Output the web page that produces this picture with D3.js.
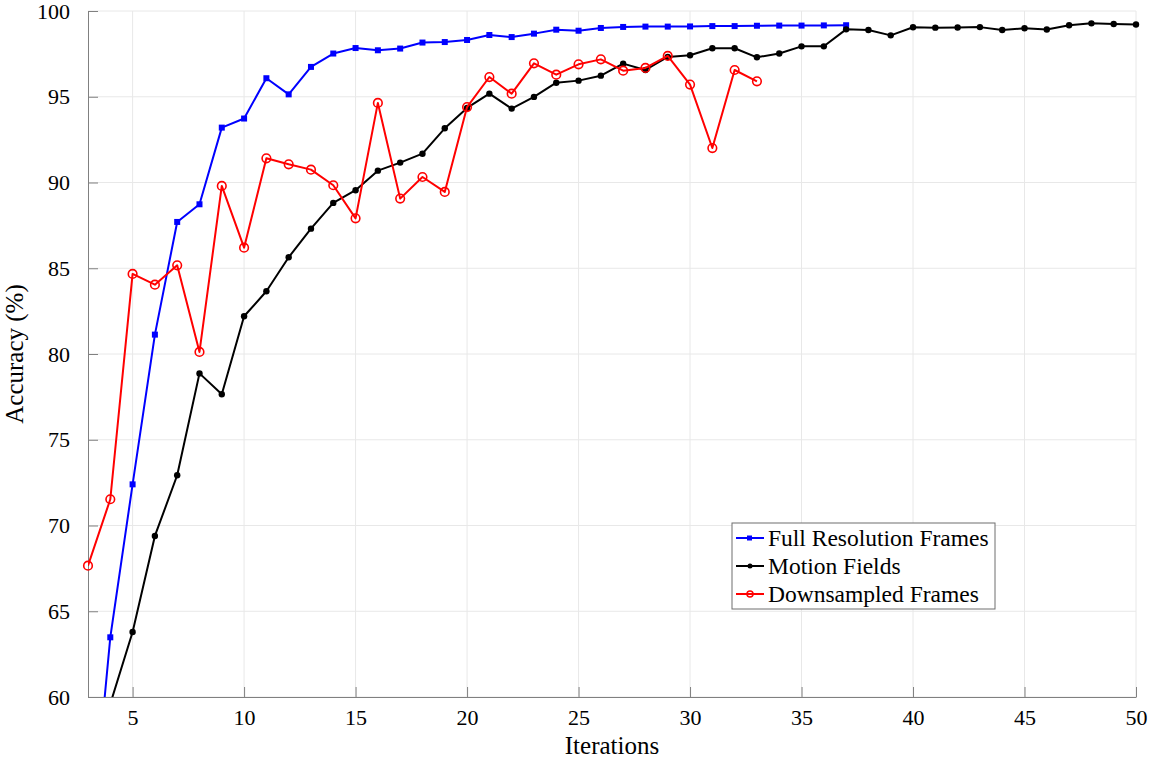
<!DOCTYPE html>
<head>
    <style>
    body { margin: 0; background: #fff; }
    text { font-family: "Liberation Serif", "Times New Roman", serif; fill: #000; }
    .grid line { stroke: #e8e8e8; stroke-width: 1; }
    .axis path, .axis line { stroke: #808080; stroke-width: 1; }
    .axis text { font-size: 22px; }
    .series { fill: none; stroke-width: 2; stroke-linejoin: round; }
    </style>
    <script src="https://d3js.org/d3.v7.min.js"></script>
</head>
<body>
    <svg width="1150" height="759"></svg>
    <script>

    // iterations
    var fullX = d3.range(3, 38);
    var motionX = d3.range(4, 51);
    var downX = d3.range(3, 34);

    // accuracy values (%)
    var fullY = [49.6, 63.48, 72.4, 81.13, 87.7, 88.73, 93.2, 93.73, 96.08, 95.14,
                 96.74, 97.52, 97.84, 97.71, 97.81, 98.16, 98.19, 98.31, 98.6, 98.48,
                 98.68, 98.91, 98.85, 99.01, 99.07, 99.09, 99.09, 99.1, 99.12, 99.12,
                 99.14, 99.15, 99.15, 99.16, 99.17];
    var motionY = [59.6, 63.79, 69.39, 72.93, 78.87, 77.65, 82.2, 83.66, 85.64, 87.31,
                   88.81, 89.55, 90.69, 91.16, 91.68, 93.16, 94.35, 95.18, 94.31, 94.99,
                   95.82, 95.94, 96.23, 96.93, 96.56, 97.32, 97.42, 97.83, 97.83, 97.3,
                   97.52, 97.94, 97.94, 98.93, 98.89, 98.58, 99.05, 99.03, 99.04, 99.06,
                   98.89, 98.99, 98.92, 99.17, 99.28, 99.24, 99.21];
    var downY = [67.66, 71.53, 84.67, 84.04, 85.17, 80.12, 89.8, 86.2, 91.41, 91.06,
                 90.75, 89.84, 87.91, 94.64, 89.06, 90.32, 89.45, 94.4, 96.15, 95.18,
                 96.95, 96.29, 96.89, 97.18, 96.52, 96.68, 97.38, 95.71, 92.01, 96.56,
                 95.9];

    var xTicks = [5, 10, 15, 20, 25, 30, 35, 40, 45, 50];
    var yTicks = [60, 65, 70, 75, 80, 85, 90, 95, 100];

    var seriesNames = ["Full Resolution Frames", "Motion Fields", "Downsampled Frames"];
    var seriesColors = ["#0000ff", "#000000", "#ff0000"];

    var svg = d3.select("svg"),
        margin = {top: 11, right: 14, bottom: 62, left: 88},
        width = +svg.attr("width") - margin.left - margin.right,
        height = +svg.attr("height") - margin.top - margin.bottom;

    var x = d3.scaleLinear().domain([3, 50]).range([0, width]);
    var y = d3.scaleLinear().domain([60, 100]).range([height, 0]);

    var g = svg.append("g")
        .attr("transform", "translate(" + margin.left + "," + margin.top + ")");

    g.append("clipPath").attr("id", "clip")
      .append("rect").attr("width", width).attr("height", height);

    // grid
    var grid = g.append("g").attr("class", "grid");
    grid.selectAll(".gx").data(xTicks).enter().append("line")
        .attr("x1", x).attr("x2", x).attr("y1", 0).attr("y2", height);
    grid.selectAll(".gy").data(yTicks).enter().append("line")
        .attr("y1", y).attr("y2", y).attr("x1", 0).attr("x2", width);

    // axes
    g.append("g")
        .attr("class", "axis")
        .attr("transform", "translate(0," + height + ")")
        .call(d3.axisBottom(x).tickValues(xTicks).tickSizeInner(-10).tickSizeOuter(0).tickPadding(12))
        .call(function(s) { s.selectAll("text").attr("dy", "0.71em"); });

    g.append("g")
        .attr("class", "axis")
        .call(d3.axisLeft(y).tickValues(yTicks).tickSizeInner(-10).tickSizeOuter(0).tickPadding(18));

    svg.selectAll(".axis .domain").attr("stroke", "#808080");

    svg.append("text")
        .attr("x", margin.left + width / 2)
        .attr("y", 754)
        .attr("text-anchor", "middle")
        .style("font-size", "25px")
        .text("Iterations");

    svg.append("text")
        .attr("transform", "translate(23," + (margin.top + height / 2) + ") rotate(-90)")
        .attr("text-anchor", "middle")
        .style("font-size", "25px")
        .text("Accuracy (%)");

    var line = d3.line()
        .x(function(d) { return x(d[0]); })
        .y(function(d) { return y(d[1]); });

    var full = d3.zip(fullX, fullY),
        motion = d3.zip(motionX, motionY),
        down = d3.zip(downX, downY);

    function inRange(d) { return d[1] >= 60 && d[1] <= 100; }

    // full resolution
    g.append("path").datum(full)
        .attr("class", "series")
        .attr("clip-path", "url(#clip)")
        .attr("stroke", seriesColors[0])
        .attr("d", line);
    g.selectAll(".sq").data(full.filter(inRange)).enter().append("rect")
        .attr("x", function(d) { return x(d[0]) - 3; })
        .attr("y", function(d) { return y(d[1]) - 3; })
        .attr("width", 6).attr("height", 6)
        .attr("fill", seriesColors[0]);

    // motion fields
    g.append("path").datum(motion)
        .attr("class", "series")
        .attr("clip-path", "url(#clip)")
        .attr("stroke", seriesColors[1])
        .attr("d", line);
    g.selectAll(".dot").data(motion.filter(inRange)).enter().append("circle")
        .attr("cx", function(d) { return x(d[0]); })
        .attr("cy", function(d) { return y(d[1]); })
        .attr("r", 3.2)
        .attr("fill", seriesColors[1]);

    // downsampled
    g.append("path").datum(down)
        .attr("class", "series")
        .attr("clip-path", "url(#clip)")
        .attr("stroke", seriesColors[2])
        .attr("d", line);
    g.selectAll(".ring").data(down.filter(inRange)).enter().append("circle")
        .attr("cx", function(d) { return x(d[0]); })
        .attr("cy", function(d) { return y(d[1]); })
        .attr("r", 4.3)
        .attr("fill", "none")
        .attr("stroke", seriesColors[2])
        .attr("stroke-width", 1.6);

    // legend
    var legend = svg.append("g").attr("transform", "translate(732,523)");
    legend.append("rect")
        .attr("width", 263).attr("height", 86)
        .attr("fill", "#fff")
        .attr("stroke", "#6e6e6e")
        .attr("stroke-width", 1);

    seriesNames.forEach(function(name, i) {
      var row = legend.append("g").attr("transform", "translate(0," + (15 + i * 28) + ")");
      row.append("line")
          .attr("x1", 4).attr("x2", 32)
          .attr("stroke", seriesColors[i]).attr("stroke-width", 2);
      if (i === 0) {
        row.append("rect").attr("x", 15).attr("y", -2.5).attr("width", 5).attr("height", 5)
            .attr("fill", seriesColors[i]);
      } else if (i === 1) {
        row.append("circle").attr("cx", 18).attr("r", 2.5).attr("fill", seriesColors[i]);
      } else {
        row.append("circle").attr("cx", 18).attr("r", 3).attr("fill", "none")
            .attr("stroke", seriesColors[i]).attr("stroke-width", 1.5);
      }
      row.append("text")
          .attr("x", 36).attr("y", 8)
          .style("font-size", "23.5px")
          .text(name);
    });

    </script>
</body>
